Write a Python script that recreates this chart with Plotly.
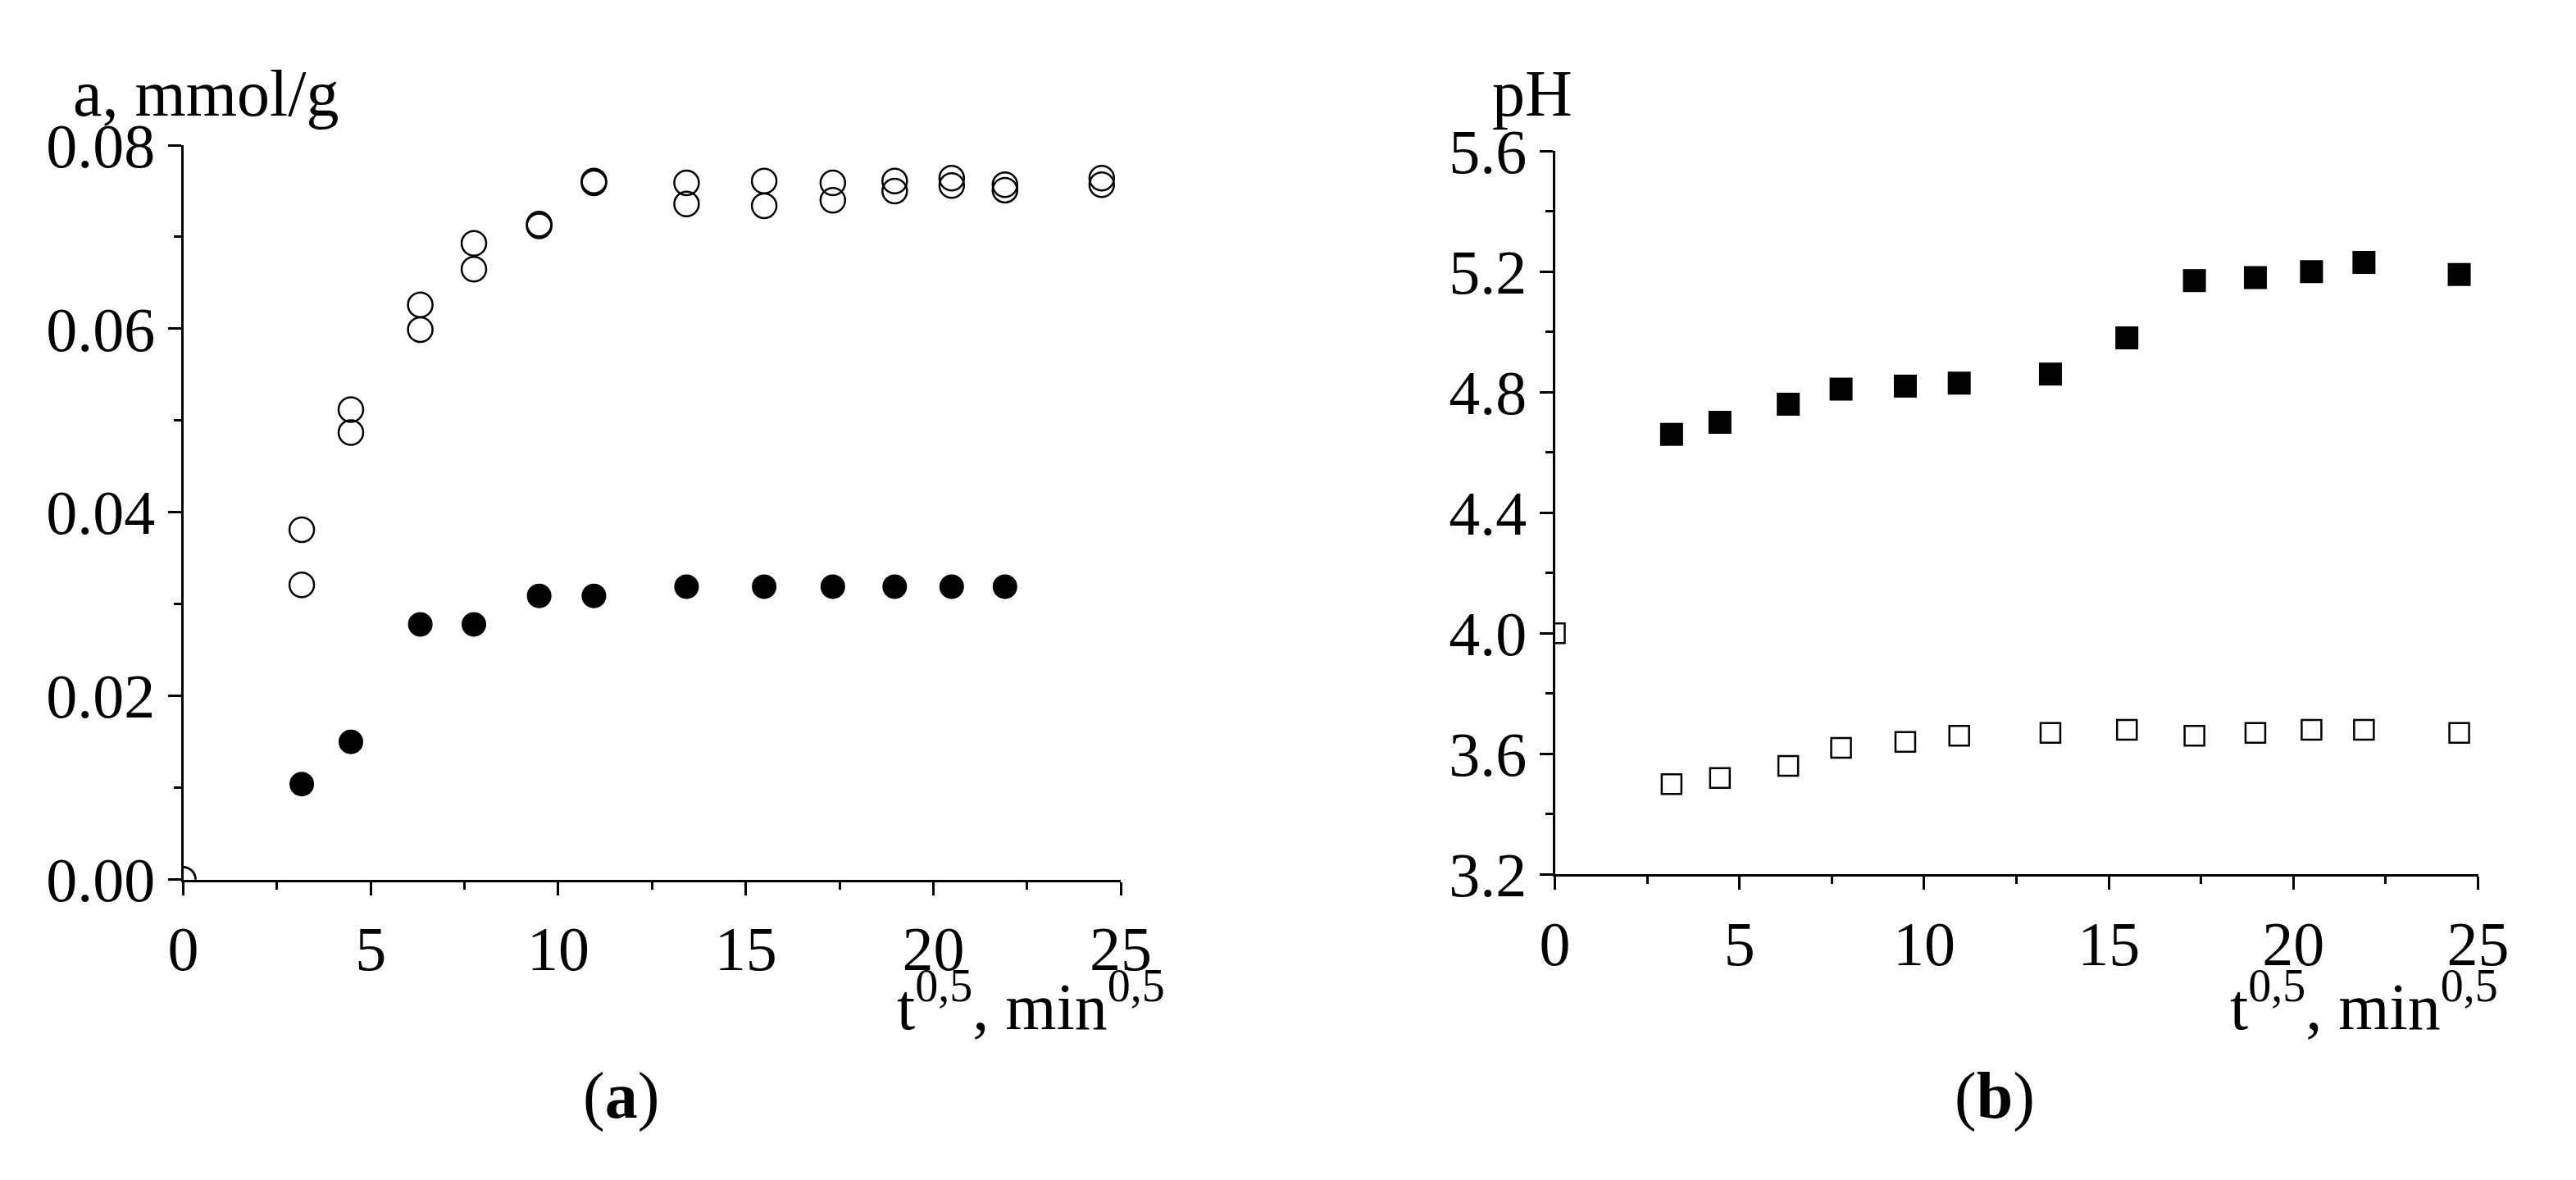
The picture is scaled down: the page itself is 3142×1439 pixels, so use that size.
import plotly.graph_objects as go

x = [0, 3.16, 4.47, 6.32, 7.75, 9.49, 10.95, 13.42, 15.49, 17.32, 18.97, 20.49, 21.91, 24.49]
a_open1 = [0, 0.0381, 0.0512, 0.0626, 0.0693, 0.0714, 0.0761, 0.0759, 0.0761, 0.0759, 0.0761, 0.0764, 0.0757, 0.0764]
a_open2 = [0, 0.0321, 0.0487, 0.0599, 0.0665, 0.0712, 0.0759, 0.0736, 0.0734, 0.0740, 0.0750, 0.0756, 0.0751, 0.0757]
x_f = x[1:13]
a_filled = [0.0104, 0.0150, 0.0278, 0.0278, 0.0309, 0.0309, 0.0319, 0.0319, 0.0319, 0.0319, 0.0319, 0.0319]
x_b = x[1:]
ph_filled = [4.66, 4.70, 4.76, 4.81, 4.82, 4.83, 4.86, 4.98, 5.17, 5.18, 5.20, 5.23, 5.19]
ph_open = [4.00, 3.50, 3.52, 3.56, 3.62, 3.64, 3.66, 3.67, 3.68, 3.66, 3.67, 3.68, 3.68, 3.67]

fig = go.Figure()
oc = dict(symbol="circle-open", size=30, color="black", line=dict(width=2.5))
fig.add_trace(go.Scatter(x=x, y=a_open1, mode="markers", marker=oc, xaxis="x", yaxis="y"))
fig.add_trace(go.Scatter(x=x, y=a_open2, mode="markers", marker=oc, xaxis="x", yaxis="y"))
fig.add_trace(go.Scatter(x=x_f, y=a_filled, mode="markers",
                         marker=dict(symbol="circle", size=30, color="black"), xaxis="x", yaxis="y"))
fig.add_trace(go.Scatter(x=x_b, y=ph_filled, mode="markers",
                         marker=dict(symbol="square", size=28, color="black"), xaxis="x2", yaxis="y2"))
fig.add_trace(go.Scatter(x=x, y=ph_open, mode="markers",
                         marker=dict(symbol="square-open", size=24, color="black", line=dict(width=2.5)),
                         xaxis="x2", yaxis="y2"))

F = "Liberation Serif, Times New Roman, serif"
ax = dict(showline=True, linecolor="black", linewidth=3, ticks="outside", ticklen=16, tickwidth=3,
          tickcolor="black", showgrid=False, zeroline=False, tickfont=dict(size=76, family=F, color="black"),
          minor=dict(ticks="outside", ticklen=9, tickwidth=3, tickcolor="black", showgrid=False))
fig.update_layout(
    width=3142, height=1439, margin=dict(l=0, r=0, t=0, b=0), showlegend=False,
    plot_bgcolor="white", paper_bgcolor="white",
    xaxis=dict(ax, domain=[0.0637, 0.4344], range=[0, 25], dtick=5, minor=dict(ax["minor"], dtick=2.5), anchor="y"),
    yaxis=dict(ax, domain=[0.2446, 0.9055], range=[0, 0.08], dtick=0.02, tickformat=".2f",
               minor=dict(ax["minor"], dtick=0.01), anchor="x"),
    xaxis2=dict(ax, domain=[0.606, 0.971], range=[0, 25], dtick=5, minor=dict(ax["minor"], dtick=2.5), anchor="y2"),
    yaxis2=dict(ax, domain=[0.2491, 0.9003], range=[3.2, 5.6], dtick=0.4, tickformat=".1f",
                minor=dict(ax["minor"], dtick=0.2), anchor="x2"),
)
def ann(text, xp, yp, xa="center", size=80):
    fig.add_annotation(text=text, x=xp/3142, y=1-yp/1439, xref="paper", yref="paper",
                       xanchor=xa, yanchor="middle", showarrow=False,
                       font=dict(size=size, family=F, color="black"))
ann("a, mmol/g", 228, 69)
ann("pH", 1876, 69)
ann("t<sup>0,5</sup>, min<sup>0,5</sup>", 1422, 1245, xa="right")
ann("t<sup>0,5</sup>, min<sup>0,5</sup>", 3078, 1245, xa="right")
ann("(<b>a</b>)", 744, 1367)
ann("(<b>b</b>)", 2450, 1367)
fig.write_html("out.html")
